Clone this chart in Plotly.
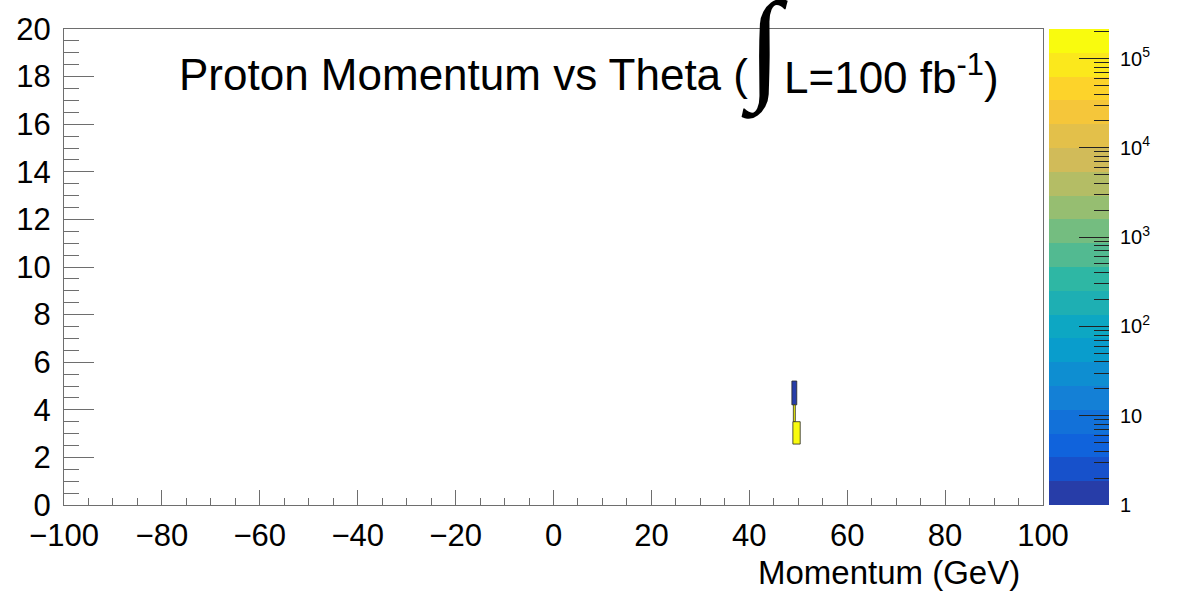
import numpy as np
import plotly.graph_objects as go

# ---------------- data ----------------
bin_x_lo = [48.7, 49.0, 48.9]
bin_x_hi = [49.7, 49.4, 50.4]
bin_theta_lo = [4.21, 3.50, 2.56]
bin_theta_hi = [5.21, 4.21, 3.50]
bin_counts = [1.5, 1.3e5, 2.0e5]

x_range = [-100, 100]
y_range = [0, 20]
z_max = 2.14e5
cbar_decades = [1, 10, 100, 1e3, 1e4, 1e5]
cbar_labels = ["1", "10", "10<sup>2</sup>", "10<sup>3</sup>", "10<sup>4</sup>", "10<sup>5</sup>"]

# ---------------- ROOT kBird palette, 20 contour levels ----------------
stops = [0.0, 0.125, 0.25, 0.375, 0.5, 0.625, 0.75, 0.875, 1.0]
red = [0.2082, 0.0592, 0.0780, 0.0232, 0.1802, 0.5301, 0.8186, 0.9956, 0.9764]
green = [0.1664, 0.3599, 0.5041, 0.6419, 0.7178, 0.7492, 0.7328, 0.7862, 0.9832]
blue = [0.5293, 0.8684, 0.8385, 0.7914, 0.6425, 0.4662, 0.3499, 0.1968, 0.0539]
ncol, ndiv = 255, 20


def pal(f):
    r = np.interp(f, stops, red)
    g = np.interp(f, stops, green)
    b = np.interp(f, stops, blue)
    return "rgb(%d,%d,%d)" % (round(r * 255), round(g * 255), round(b * 255))


level_colors = []
for i in range(ndiv):
    idx = min(int((i + 0.99) * ncol / ndiv), ncol - 1)
    level_colors.append(pal(idx / (ncol - 1)))

cscale = []
for i, c in enumerate(level_colors):
    cscale.append([i / ndiv, c])
    cscale.append([(i + 1) / ndiv, c])

zlog_max = np.log10(z_max)


def color_for(count):
    lv = np.log10(count) / zlog_max
    i = int(min(max(lv, 0), 0.9999) * ndiv)
    return level_colors[i]


# ---------------- geometry ----------------
W, H = 1181, 593
ml, mr, mt, mb = 64, 70, 21, 88
pw = W - ml - mr
ph = H - mt - mb


def px2paper_x(px):
    return (px - ml) / pw


def px2paper_y(py):
    return (H - mb - py) / ph


fig = go.Figure()

# bins
for xl, xh, yl, yh, c in zip(bin_x_lo, bin_x_hi, bin_theta_lo, bin_theta_hi, bin_counts):
    fig.add_trace(go.Scatter(
        x=[xl, xh, xh, xl, xl], y=[yl, yl, yh, yh, yl],
        mode="lines", fill="toself", fillcolor=color_for(c),
        line=dict(color="rgba(40,40,40,0.8)", width=1),
        hoverinfo="skip", showlegend=False))

# colour key drawn as a heatmap on its own axes (log10 units)
level_edges = [zlog_max * i / ndiv for i in range(ndiv + 1)]
level_mid = [(level_edges[i] + level_edges[i + 1]) / 2 for i in range(ndiv)]
fig.add_trace(go.Heatmap(
    x=[0, 1], y=level_edges, z=[[v] for v in level_mid],
    zmin=0, zmax=zlog_max, colorscale=cscale, showscale=False,
    xaxis="x2", yaxis="y2", hoverinfo="skip"))

tickfont = dict(family="Liberation Sans, Arial, Helvetica, sans-serif", size=31, color="black")
axcol = "#6e6e6e"

minor_vals = []
for d in range(0, 6):
    for k in range(2, 10):
        v = np.log10(k * 10 ** d)
        if v <= zlog_max:
            minor_vals.append(v)

fig.update_layout(
    width=W, height=H,
    margin=dict(l=ml, r=mr, t=mt, b=mb),
    paper_bgcolor="white", plot_bgcolor="white",
    xaxis=dict(range=x_range, domain=[0, px2paper_x(1043)], dtick=20, tick0=-100,
               ticks="inside", ticklen=15, tickcolor=axcol, tickwidth=1,
               showline=True, linecolor=axcol, linewidth=1, mirror=True,
               showgrid=False, zeroline=False, tickfont=tickfont,
               ticklabelstandoff=3,
               minor=dict(ticks="inside", ticklen=7, dtick=5, tickcolor=axcol, showgrid=False)),
    yaxis=dict(range=y_range, dtick=2, tick0=0,
               ticks="inside", ticklen=30, tickcolor=axcol, tickwidth=1,
               showline=True, linecolor=axcol, linewidth=1, mirror=True,
               showgrid=False, zeroline=False, tickfont=tickfont,
               ticklabelstandoff=6,
               minor=dict(ticks="inside", ticklen=15, dtick=0.5, tickcolor=axcol, showgrid=False)),
    xaxis2=dict(domain=[px2paper_x(1049), px2paper_x(1109)], range=[0, 1], anchor="y2",
                showticklabels=False, ticks="", showgrid=False, zeroline=False, showline=False),
    yaxis2=dict(domain=[0, 1], anchor="x2", side="right", range=[0, zlog_max],
                tickmode="array", tickvals=[np.log10(v) for v in cbar_decades], ticktext=cbar_labels,
                ticks="inside", ticklen=30, tickcolor="#222", tickwidth=1,
                showline=False, showgrid=False, zeroline=False,
                tickfont=dict(family="Liberation Sans, Arial, sans-serif", size=20, color="black"),
                ticklabelstandoff=10,
                minor=dict(ticks="inside", ticklen=15, tickmode="array", tickvals=minor_vals,
                           tickcolor="#222", showgrid=False)),
    showlegend=False,
)

tfont = dict(family="Liberation Sans, Arial, Helvetica, sans-serif", size=44, color="black")
fig.add_annotation(text="Proton Momentum vs Theta (", xref="paper", yref="paper",
                   x=px2paper_x(177), y=px2paper_y(67), xanchor="left", yanchor="middle",
                   showarrow=False, font=tfont)
fig.add_annotation(text="∫", xref="paper", yref="paper",
                   x=px2paper_x(764), y=px2paper_y(40), xanchor="center", yanchor="middle",
                   showarrow=False, font=dict(family="Liberation Serif, DejaVu Serif, serif", size=122, color="black"))
fig.add_annotation(text="L=100 fb<sup>-1</sup>)", xref="paper", yref="paper",
                   x=px2paper_x(782), y=px2paper_y(67), xanchor="left", yanchor="middle",
                   showarrow=False, font=tfont)

fig.add_annotation(text="Momentum (GeV)", xref="paper", yref="paper",
                   x=px2paper_x(1022), y=px2paper_y(574), xanchor="right", yanchor="middle",
                   showarrow=False, font=dict(family="Liberation Sans, Arial, sans-serif", size=33, color="black"))

fig.write_html("out.html")
